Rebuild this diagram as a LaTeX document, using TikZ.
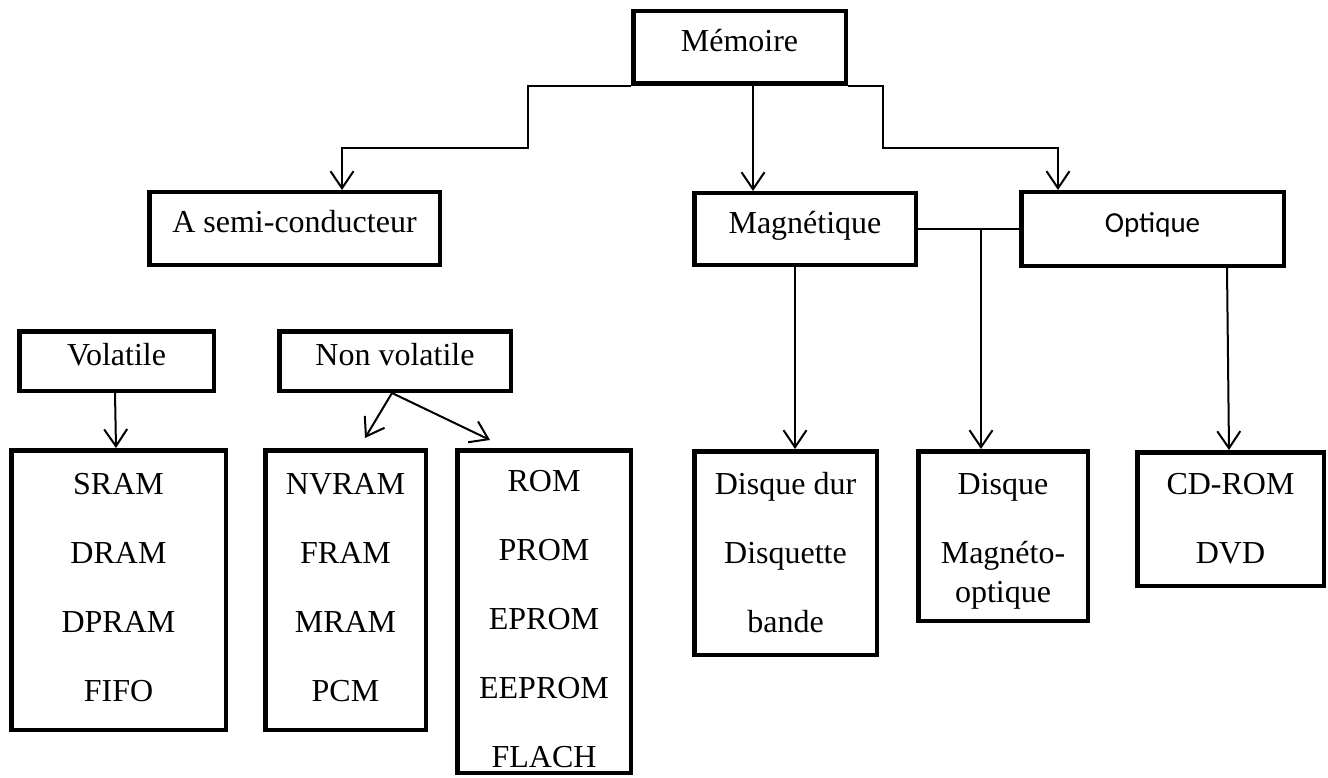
\documentclass[tikz,border=0pt]{standalone}
\usepackage{fontspec}
\setmainfont{Liberation Serif}
\newfontfamily\calibrilike{Carlito}
\usetikzlibrary{arrows.meta}
\begin{document}
\begin{tikzpicture}[x=1pt,y=-1pt,
  box/.style={draw, line width=4.5pt, inner sep=0pt, align=center,
    font=\fontsize{32}{69}\selectfont},
  single/.style={text height=17.6pt, text depth=8.6pt},
  conn/.style={line width=2pt},
  arr/.style={conn, -{Straight Barb[length=17pt,width=23pt,line width=2pt]}},
]
\useasboundingbox (0,0) rectangle (1328,778);

% top level
\node[box,single,minimum width=212.5pt,minimum height=72.5pt] (mem) at (739.5,47.5) {Mémoire};

% second level
\node[box,single,minimum width=290.5pt,minimum height=72.5pt] (semi) at (294.5,228.5) {A semi-conducteur};
\node[box,single,minimum width=221.5pt,minimum height=71.5pt] (mag) at (805,229) {Magnétique};
\node[box,minimum width=262.5pt,minimum height=73.5pt,
  font=\calibrilike\fontsize{29}{35}\selectfont,
  text height=14pt, text depth=6pt] (opt) at (1152.5,229) {Optique};

% semiconductor families
\node[box,single,minimum width=194.5pt,minimum height=59.5pt] (vol) at (116.5,361) {Volatile};
\node[box,single,minimum width=231.5pt,minimum height=59.5pt] (nonvol) at (395,361) {Non volatile};

% leaf lists
\node[box,minimum width=214.5pt,minimum height=279.5pt] (sram) at (118.5,590)
  {SRAM\\DRAM\\DPRAM\\FIFO\rule[-6pt]{0pt}{6pt}};
\node[box,minimum width=160.5pt,minimum height=279.5pt] (nvram) at (345.5,590)
  {NVRAM\\FRAM\\MRAM\\PCM\rule[-6pt]{0pt}{6pt}};
\node[box,minimum width=173.5pt,minimum height=322.5pt] (rom) at (544,611.5)
  {\rule{0pt}{37pt}ROM\\PROM\\EPROM\\EEPROM\\FLACH};
\node[box,minimum width=182.5pt,minimum height=203.5pt] (dur) at (785.5,553)
  {Disque dur\\Disquette\\bande};
\node[box,minimum width=169.5pt,minimum height=169.5pt] (mo) at (1003,536)
  {\rule{0pt}{32pt}Disque\\Magnéto-\\[-30pt]optique};
\node[box,minimum width=186.5pt,minimum height=133.5pt] (cd) at (1230.5,519)
  {CD-ROM\\DVD};

% connectors from the root
\draw[arr] (mem.south west) -- ++(-103,0) -- ++(0,62) -| ([xshift=47.5pt]semi.north);
\draw[arr] ([xshift=13.5pt]mem.south) -- ([xshift=-52pt]mag.north);
\draw[arr] (mem.south east) -- ++(35,0) -- ++(0,62) -| ([xshift=-94.5pt]opt.north);

% magnetic / optical storage
\draw[conn] (mag.east) -- (opt.west);
\coordinate (j) at (981,229);
\draw[arr] (j) -- (j |- mo.north);
\draw[arr] ([xshift=-10pt]mag.south) -- ([xshift=9.5pt]dur.north);
\draw[arr] ([xshift=74.5pt]opt.south) -- ([xshift=-1.5pt]cd.north);

% semiconductor memories
\draw[arr] ([xshift=-1.5pt]vol.south) -- ([xshift=-2.5pt]sram.north);
\coordinate (nvA) at (365,438);
\coordinate (nvB) at (490,440);
\draw[arr] ([xshift=-3pt]nonvol.south) -- (nvA);
\draw[arr] ([xshift=-3pt]nonvol.south) -- (nvB);
\end{tikzpicture}
\end{document}
